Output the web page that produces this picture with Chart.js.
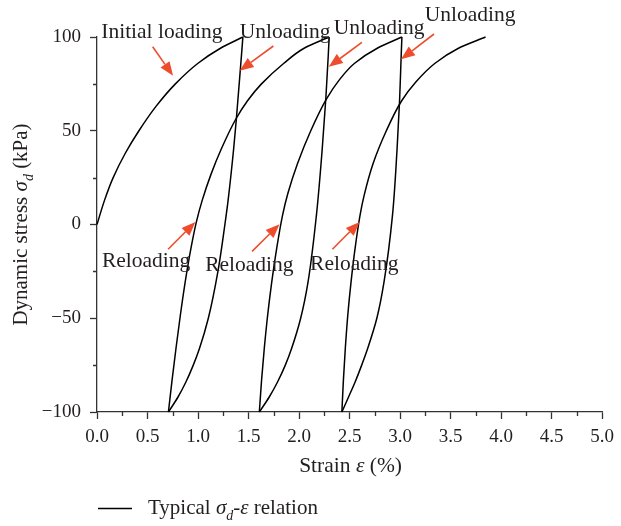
<!DOCTYPE html>
<html>
<head>
<meta charset="utf-8">
<script src="https://cdn.jsdelivr.net/npm/chart.js@4/dist/chart.umd.min.js"></script>
<style>
  html, body { margin: 0; padding: 0; background: #fff; }
  #wrap { width: 621px; height: 526px; }
</style>
</head>
<body>
<div id="wrap"><canvas id="c" width="621" height="526"></canvas></div>
<script>
// Hysteresis loops of dynamic stress vs. strain (cyclic loading test)

// Initial loading branch
const initialStrain = [0, 0.075, 0.16, 0.28, 0.415, 0.584, 0.776, 1.0, 1.222, 1.444];
const initialStress = [0, 13, 25, 38, 50, 63, 75, 86, 94, 100];

// First unloading / reloading
const unload1Strain = [1.444, 1.434, 1.379, 1.352, 1.298, 1.266, 1.197, 1.102, 1.015, 0.953, 0.880, 0.802, 0.707];
const unload1Stress = [100, 93, 56, 40, 13, 0, -25, -50, -66, -75, -84, -92, -100];
const reload1Strain = [0.707, 0.743, 0.782, 0.826, 0.872, 0.922, 0.982, 1.042, 1.13, 1.228, 1.372, 1.49, 1.628, 1.85, 2.05, 2.298];
const reload1Stress = [-100, -83, -66, -48, -31, -15, 1, 13, 27, 40, 56, 66, 75, 86, 94, 100];

// Second unloading / reloading
const unload2Strain = [2.298, 2.289, 2.266, 2.229, 2.172, 2.088, 2.016, 1.927, 1.864, 1.787, 1.705, 1.607];
const unload2Stress = [100, 90, 68, 40, 5, -31, -50, -66, -75, -84, -92, -100];
const reload2Strain = [1.607, 1.629, 1.656, 1.690, 1.729, 1.778, 1.837, 1.889, 1.985, 2.116, 2.272, 2.397, 2.55, 2.774, 3.018];
const reload2Stress = [-100, -83, -66, -48, -31, -13, 5, 16.5, 32.5, 50, 67, 77, 86, 94, 100];

// Third unloading / reloading
const unload3Strain = [3.018, 3.011, 2.995, 2.97, 2.925, 2.84, 2.77, 2.68, 2.62, 2.555, 2.49, 2.424];
const unload3Stress = [100, 90, 66, 40, 5, -31, -50, -66, -75, -84, -92, -100];
const reload3Strain = [2.424, 2.439, 2.458, 2.483, 2.514, 2.554, 2.604, 2.642, 2.733, 2.864, 3.016, 3.156, 3.346, 3.578, 3.846];
const reload3Stress = [-100, -83, -66, -48, -31, -13, 5, 15, 32.5, 50, 66, 76, 86, 94, 100];

// Axis ticks
const xTickValues = [0, 0.5, 1.0, 1.5, 2.0, 2.5, 3.0, 3.5, 4.0, 4.5, 5.0];
const xTickLabels = ['0.0', '0.5', '1.0', '1.5', '2.0', '2.5', '3.0', '3.5', '4.0', '4.5', '5.0'];
const xMinorTicks = [0.25, 0.75, 1.25, 1.75, 2.25, 2.75, 3.25, 3.75, 4.25, 4.75];
const yTickValues = [-100, -50, 0, 50, 100];
const yTickLabels = ['\u2212100', '\u221250', '0', '50', '100'];
const yMinorTicks = [-75, -25, 25, 75];

// Callout labels: text, text anchor (strain, stress), arrow tail and tip (strain, stress)
const callouts = [
  { text: 'Initial loading', at: [0.042, 99.3], from: [0.551, 94.8], to: [0.753, 79.3] },
  { text: 'Unloading', at: [1.412, 99.3], from: [1.746, 95.2], to: [1.412, 82.0] },
  { text: 'Unloading', at: [2.343, 101.4], from: [2.622, 97.1], to: [2.294, 84.1] },
  { text: 'Unloading', at: [3.245, 108.7], from: [3.336, 101.6], to: [3.009, 88.1] },
  { text: 'Reloading', at: [0.049, -22.6], from: [0.704, -13.2], to: [0.974, 1.4] },
  { text: 'Reloading', at: [1.071, -24.8], from: [1.535, -14.3], to: [1.807, 0.2] },
  { text: 'Reloading', at: [2.109, -24.0], from: [2.330, -13.2], to: [2.600, 1.4] }
];

const SERIF = '"Liberation Serif", "Times New Roman", serif';
const TEXT = '#231f20';
const AXIS = '#333333';
const ARROW = '#ee4c2c';

function pairs(xs, ys) { return xs.map((x, i) => ({ x: x, y: ys[i] })); }

const branches = [
  pairs(initialStrain, initialStress),
  pairs(unload1Strain, unload1Stress),
  pairs(reload1Strain, reload1Stress),
  pairs(unload2Strain, unload2Stress),
  pairs(reload2Strain, reload2Stress),
  pairs(unload3Strain, unload3Stress),
  pairs(reload3Strain, reload3Stress)
];

function drawRich(ctx, parts, x, y, size, align) {
  const fontOf = p => (p[1] ? 'italic ' : '') + (p[2] ? Math.round(size * 0.68) : size) + 'px ' + SERIF;
  let total = 0;
  parts.forEach(p => { ctx.font = fontOf(p); total += ctx.measureText(p[0]).width; });
  let cx = align === 'center' ? x - total / 2 : x;
  parts.forEach(p => {
    ctx.font = fontOf(p);
    ctx.fillText(p[0], cx, y + (p[2] ? size * 0.3 : 0));
    cx += ctx.measureText(p[0]).width;
  });
}

function drawArrow(ctx, x1, y1, x2, y2) {
  const ang = Math.atan2(y2 - y1, x2 - x1);
  const len = 14, half = 5.5;
  const bx = x2 - len * Math.cos(ang), by = y2 - len * Math.sin(ang);
  ctx.beginPath();
  ctx.moveTo(x1, y1);
  ctx.lineTo(bx, by);
  ctx.stroke();
  ctx.beginPath();
  ctx.moveTo(x2, y2);
  ctx.lineTo(bx + half * Math.sin(ang), by - half * Math.cos(ang));
  ctx.lineTo(bx - half * Math.sin(ang), by + half * Math.cos(ang));
  ctx.closePath();
  ctx.fill();
}

const extras = {
  id: 'extras',
  afterDraw(chart) {
    const ctx = chart.ctx;
    const xs = chart.scales.x, ys = chart.scales.y;
    const area = chart.chartArea;
    ctx.save();

    // minor ticks
    ctx.strokeStyle = AXIS;
    ctx.lineWidth = 1.3;
    ctx.beginPath();
    xMinorTicks.forEach(v => {
      const px = Math.round(xs.getPixelForValue(v)) + 0.5;
      ctx.moveTo(px, area.bottom);
      ctx.lineTo(px, area.bottom + 4);
    });
    yMinorTicks.forEach(v => {
      const py = Math.round(ys.getPixelForValue(v)) + 0.5;
      ctx.moveTo(area.left, py);
      ctx.lineTo(area.left - 4, py);
    });
    ctx.stroke();

    // callouts
    ctx.textBaseline = 'alphabetic';
    ctx.textAlign = 'left';
    ctx.font = '21.5px ' + SERIF;
    ctx.fillStyle = TEXT;
    callouts.forEach(c => {
      ctx.fillText(c.text, xs.getPixelForValue(c.at[0]), ys.getPixelForValue(c.at[1]));
    });
    ctx.strokeStyle = ARROW;
    ctx.fillStyle = ARROW;
    ctx.lineWidth = 1.6;
    callouts.forEach(c => {
      drawArrow(ctx,
        xs.getPixelForValue(c.from[0]), ys.getPixelForValue(c.from[1]),
        xs.getPixelForValue(c.to[0]), ys.getPixelForValue(c.to[1]));
    });

    // axis titles
    ctx.fillStyle = TEXT;
    drawRich(ctx, [['Strain ', false, false], ['\u03b5', true, false], [' (%)', false, false]],
      (area.left + area.right) / 2 + 1, 472, 21.5, 'center');

    ctx.save();
    ctx.translate(27, (area.top + area.bottom) / 2);
    ctx.rotate(-Math.PI / 2);
    drawRich(ctx, [['Dynamic stress ', false, false], ['\u03c3', true, false], ['d', true, true], [' (kPa)', false, false]],
      0, 0, 21, 'center');
    ctx.restore();

    // legend
    ctx.strokeStyle = '#000';
    ctx.lineWidth = 1.4;
    ctx.beginPath();
    ctx.moveTo(98, 508.5);
    ctx.lineTo(132, 508.5);
    ctx.stroke();
    drawRich(ctx, [['Typical ', false, false], ['\u03c3', true, false], ['d', true, true], ['-', false, false], ['\u03b5', true, false], [' relation', false, false]],
      148, 514, 21, 'left');

    ctx.restore();
  }
};

new Chart(document.getElementById('c'), {
  type: 'scatter',
  data: {
    datasets: branches.map(b => ({
      data: b,
      showLine: true,
      borderColor: '#000',
      borderWidth: 1.5,
      pointRadius: 0,
      cubicInterpolationMode: 'monotone',
      fill: false,
      clip: 6
    }))
  },
  options: {
    indexAxis: 'y',
    responsive: false,
    devicePixelRatio: 1,
    animation: false,
    layout: { padding: { top: 37, right: 11, left: 0, bottom: 0 } },
    plugins: { legend: { display: false }, tooltip: { enabled: false } },
    scales: {
      x: {
        type: 'linear',
        min: 0, max: 5,
        afterBuildTicks: s => { s.ticks = xTickValues.map(v => ({ value: v })); },
        afterFit: s => { s.height = 114; },
        ticks: {
          callback: (v, i) => xTickLabels[i],
          font: { family: SERIF, size: 19 },
          color: TEXT,
          padding: 7,
          maxRotation: 0,
          autoSkip: false
        },
        grid: { drawOnChartArea: false, tickLength: 7, tickWidth: 1.3, tickColor: AXIS },
        border: { color: AXIS, width: 1.3 }
      },
      y: {
        type: 'linear',
        min: -100, max: 100,
        afterBuildTicks: s => { s.ticks = yTickValues.map(v => ({ value: v })); },
        afterFit: s => { s.width = 97; },
        ticks: {
          callback: (v, i) => yTickLabels[i],
          font: { family: SERIF, size: 19 },
          color: TEXT,
          padding: 9,
          autoSkip: false
        },
        grid: { drawOnChartArea: false, tickLength: 7, tickWidth: 1.3, tickColor: AXIS },
        border: { color: AXIS, width: 1.3 }
      }
    }
  },
  plugins: [extras]
});
</script>
</body>
</html>
